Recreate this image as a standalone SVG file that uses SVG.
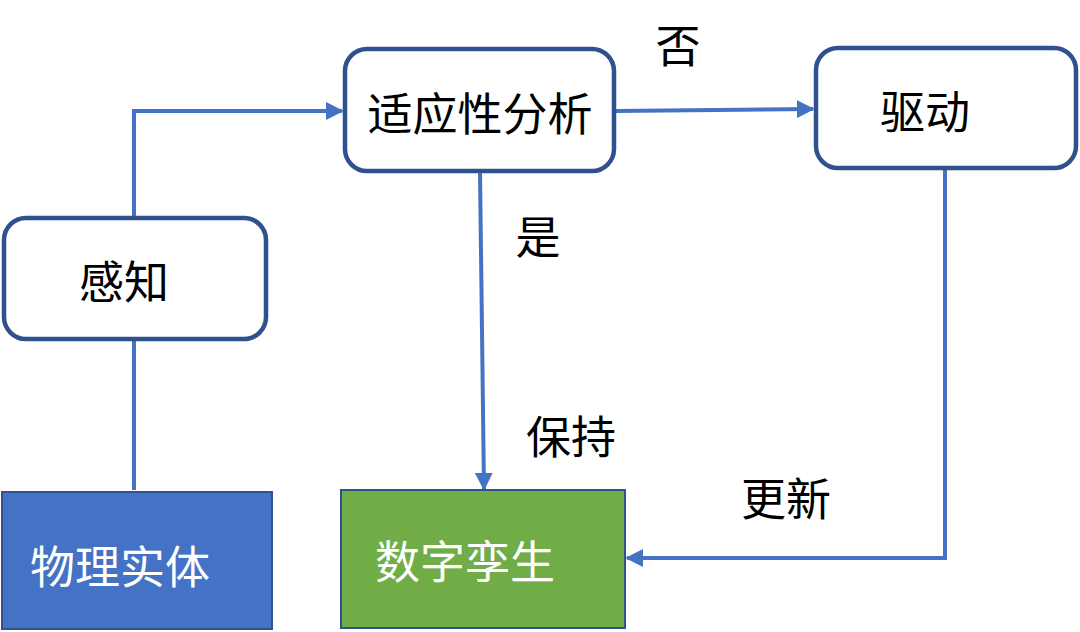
<svg xmlns="http://www.w3.org/2000/svg" width="1080" height="632" viewBox="0 0 1080 632">
<defs>
<style>
.box{fill:#fff;stroke:#2F528F;stroke-width:4.5}
.t{font-family:"Noto Sans CJK SC","Liberation Sans",sans-serif;font-size:45px;fill:#000;text-anchor:middle}
.w{fill:#fff}
.c{fill:none;stroke:#4472C4;stroke-width:4}
</style>
<marker id="ah" viewBox="0 0 10 10" refX="9" refY="5" markerWidth="4.5" markerHeight="4.5" orient="auto" markerUnits="strokeWidth">
<path d="M0,0 L10,5 L0,10 z" fill="#4472C4"/>
</marker>
</defs>
<rect width="1080" height="632" fill="#fff"/>
<g id="connectors">
<line class="c" x1="134" y1="490" x2="134" y2="340"/>
<polyline class="c" points="134,218 134,111 342,111" marker-end="url(#ah)"/>
<line class="c" x1="616" y1="111" x2="813" y2="109" marker-end="url(#ah)"/>
<line class="c" x1="480" y1="172" x2="484" y2="489" marker-end="url(#ah)"/>
<polyline class="c" points="945,169 945,558 627,558" marker-end="url(#ah)"/>
</g>
<g id="ganzhi">
<rect class="box" x="4" y="218" width="262" height="121" rx="22"/>
<text class="t" x="124" y="299">感知</text>
</g>
<g id="shiyingxing">
<rect class="box" x="345" y="49" width="269" height="122" rx="22"/>
<text class="t" x="480" y="131">适应性分析</text>
</g>
<g id="qudong">
<rect class="box" x="816" y="48" width="260" height="120" rx="22"/>
<text class="t" x="925" y="129">驱动</text>
</g>
<g id="wuli">
<rect x="2" y="492" width="270" height="137" fill="#4472C4" stroke="#2F528F" stroke-width="2"/>
<text class="t w" x="120" y="584">物理实体</text>
</g>
<g id="shuzi">
<rect x="341" y="490" width="284" height="138" fill="#70AD47" stroke="#2F528F" stroke-width="2"/>
<text class="t w" x="465" y="579">数字孪生</text>
</g>
<g id="labels">
<text class="t" x="678" y="63">否</text>
<text class="t" x="538" y="254">是</text>
<text class="t" x="571" y="454">保持</text>
<text class="t" x="786" y="516">更新</text>
</g>
</svg>
